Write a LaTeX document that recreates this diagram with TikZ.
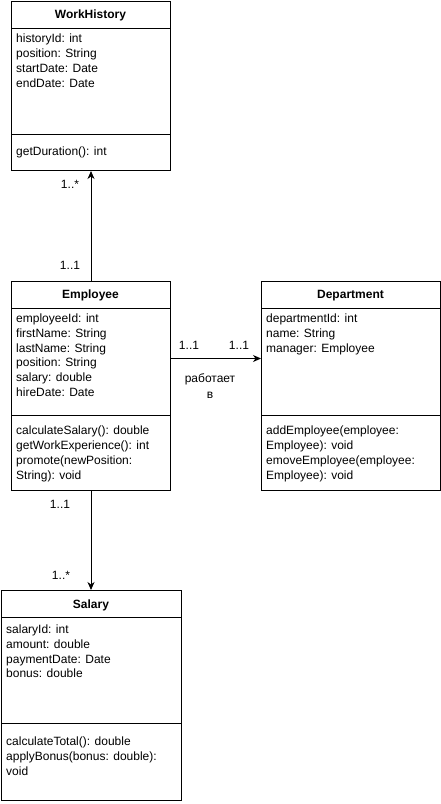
\documentclass[tikz,border=0pt]{standalone}
\usepackage{fontspec}
\setmainfont{Liberation Sans}
\usetikzlibrary{arrows.meta}
\begin{document}
\begin{tikzpicture}[x=1pt,y=-1pt,
  classbox/.style={draw,line width=1pt,anchor=north west,inner sep=0pt,fill=white},
  txt/.style={anchor=base west,inner sep=0pt,font=\fontsize{12}{14}\selectfont},
  ttl/.style={anchor=base,inner sep=0pt,font=\bfseries\fontsize{12}{14}\selectfont},
  lbl/.style={anchor=base,inner sep=0pt,font=\fontsize{12}{14}\selectfont},
  sep/.style={line width=1pt},
  assoc/.style={line width=1pt,-{Stealth[length=8pt,width=7pt,inset=2.5pt]}}]
\fill[white] (0,0) rectangle (441,804);
\useasboundingbox (0,0) rectangle (441,804);

% WorkHistory
\node[classbox,minimum width=159pt,minimum height=169pt] (wh) at (11,1) {};
\draw[sep] ([yshift=-27pt]wh.north west) -- ([yshift=-27pt]wh.north east);
\draw[sep] ([yshift=-133pt]wh.north west) -- ([yshift=-133pt]wh.north east);
\node[ttl] (whT) at (90.5,18.5) {WorkHistory};
\node[txt] (wh1) at (16,42.5) {historyId: int};
\node[txt] (wh2) at (16,57.5) {position: String};
\node[txt] (wh3) at (16,72.5) {startDate: Date};
\node[txt] (wh4) at (16,87.5) {endDate: Date};
\node[txt] (wh5) at (16,155.5) {getDuration(): int};

% Employee
\node[classbox,minimum width=159pt,minimum height=209pt] (emp) at (11,281) {};
\draw[sep] ([yshift=-27pt]emp.north west) -- ([yshift=-27pt]emp.north east);
\draw[sep] ([yshift=-134pt]emp.north west) -- ([yshift=-134pt]emp.north east);
\node[ttl] (empT) at (90.5,298.5) {Employee};
\node[txt] (e1) at (16,322.5) {employeeId: int};
\node[txt] (e2) at (16,337.3) {firstName: String};
\node[txt] (e3) at (16,352.1) {lastName: String};
\node[txt] (e4) at (16,366.9) {position: String};
\node[txt] (e5) at (16,381.7) {salary: double};
\node[txt] (e6) at (16,396.5) {hireDate: Date};
\node[txt] (e7) at (16,434.5) {calculateSalary(): double};
\node[txt] (e8) at (16,449.5) {getWorkExperience(): int};
\node[txt] (e9) at (16,464.5) {promote(newPosition:};
\node[txt] (e10) at (16,479.5) {String): void};

% Department
\node[classbox,minimum width=179pt,minimum height=209pt] (dep) at (261,281) {};
\draw[sep] ([yshift=-27pt]dep.north west) -- ([yshift=-27pt]dep.north east);
\draw[sep] ([yshift=-134pt]dep.north west) -- ([yshift=-134pt]dep.north east);
\node[ttl] (depT) at (350.5,298.5) {Department};
\node[txt] (d1) at (266,322.5) {departmentId: int};
\node[txt] (d2) at (266,337.3) {name: String};
\node[txt] (d3) at (266,352.1) {manager: Employee};
\node[txt] (d4) at (266,434.5) {addEmployee(employee:};
\node[txt] (d5) at (266,449.5) {Employee): void};
\node[txt] (d6) at (266,464.5) {emoveEmployee(employee:};
\node[txt] (d7) at (266,479.5) {Employee): void};

% Salary
\node[classbox,minimum width=180pt,minimum height=210pt] (sal) at (1,590) {};
\draw[sep] ([yshift=-27pt]sal.north west) -- ([yshift=-27pt]sal.north east);
\draw[sep] ([yshift=-133pt]sal.north west) -- ([yshift=-133pt]sal.north east);
\node[ttl] (salT) at (91,608.5) {Salary};
\node[txt] (s1) at (6,633.5) {salaryId: int};
\node[txt] (s2) at (6,648.3) {amount: double};
\node[txt] (s3) at (6,663.1) {paymentDate: Date};
\node[txt] (s4) at (6,677.9) {bonus: double};
\node[txt] (s5) at (6,745.5) {calculateTotal(): double};
\node[txt] (s6) at (6,760.5) {applyBonus(bonus: double):};
\node[txt] (s7) at (6,775.5) {void};

% Connectors
\draw[assoc] (emp.north) -- (wh.south);
\draw[assoc] ([yshift=27.5pt]emp.east) -- ([yshift=27.5pt]dep.west);
\draw[assoc] (emp.south) -- (emp.south |- sal.north);

% Multiplicities
\node[lbl] (m1) at (70,188.5) {1..*};
\node[lbl] (m2) at (70,269.5) {1..1};
\node[lbl] (m3) at (189,349.5) {1..1};
\node[lbl] (m4) at (239,349.5) {1..1};
\node[lbl] (r1) at (210,382.5) {работает};
\node[lbl] (r2) at (210,398.5) {в};
\node[lbl] (m5) at (60,508.5) {1..1};
\node[lbl] (m6) at (61,579.5) {1..*};
\end{tikzpicture}
\end{document}
